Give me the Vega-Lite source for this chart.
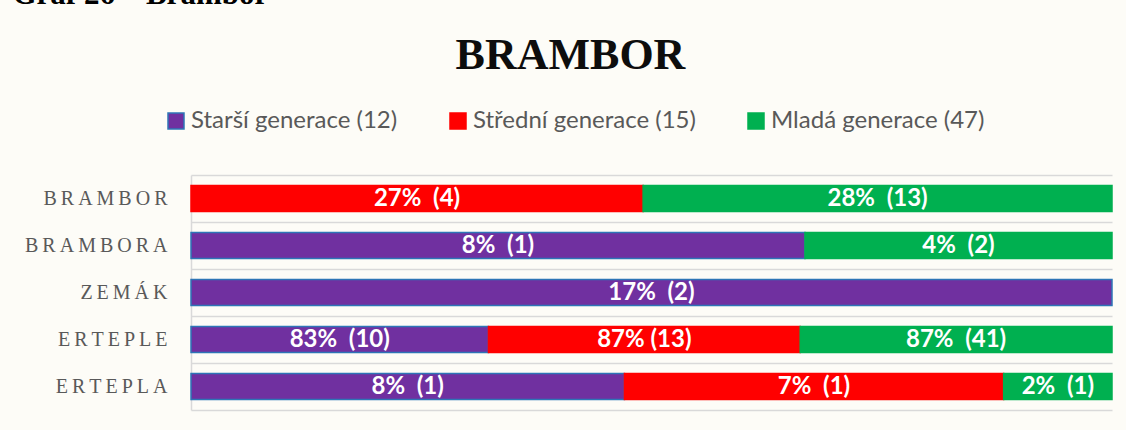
{
  "$schema": "https://vega.github.io/schema/vega-lite/v6.json",
  "autosize": {"type": "none"},
  "padding": {"left": 191, "top": 175, "right": 14, "bottom": 20},
  "width": 921,
  "height": 235,
  "background": "#fdfcf7",
  "title": {
    "text": "BRAMBOR",
    "font": "Liberation Serif",
    "fontWeight": "bold",
    "fontSize": 44,
    "color": "#0d0d0d",
    "anchor": "middle",
    "frame": "group",
    "baseline": "alphabetic",
    "dx": -81,
    "dy": 135,
    "offset": 0
  },
  "data": {
    "values": [
      {"word": "BRAMBOR", "gen": "Střední generace (15)", "g": 2, "pct": 27, "label": "27%\u00a0 (4)"},
      {"word": "BRAMBOR", "gen": "Mladá generace (47)", "g": 3, "pct": 28, "label": "28%\u00a0 (13)"},
      {"word": "BRAMBORA", "gen": "Starší generace (12)", "g": 1, "pct": 8, "label": "8%\u00a0 (1)"},
      {"word": "BRAMBORA", "gen": "Mladá generace (47)", "g": 3, "pct": 4, "label": "4%\u00a0 (2)"},
      {"word": "ZEMÁK", "gen": "Starší generace (12)", "g": 1, "pct": 17, "label": "17%\u00a0 (2)"},
      {"word": "ERTEPLE", "gen": "Starší generace (12)", "g": 1, "pct": 83, "label": "83%\u00a0 (10)"},
      {"word": "ERTEPLE", "gen": "Střední generace (15)", "g": 2, "pct": 87, "label": "87% (13)"},
      {"word": "ERTEPLE", "gen": "Mladá generace (47)", "g": 3, "pct": 87, "label": "87%\u00a0 (41)"},
      {"word": "ERTEPLA", "gen": "Starší generace (12)", "g": 1, "pct": 8, "label": "8%\u00a0 (1)"},
      {"word": "ERTEPLA", "gen": "Střední generace (15)", "g": 2, "pct": 7, "label": "7%\u00a0 (1)"},
      {"word": "ERTEPLA", "gen": "Mladá generace (47)", "g": 3, "pct": 2, "label": "2%\u00a0 (1)"}
    ]
  },
  "transform": [
    {"stack": "pct", "groupby": ["word"], "sort": [{"field": "g"}], "offset": "normalize", "as": ["x0", "x1"]}
  ],
  "encoding": {
    "y": {
      "field": "word",
      "type": "nominal",
      "sort": ["BRAMBOR", "BRAMBORA", "ZEMÁK", "ERTEPLE", "ERTEPLA"],
      "scale": {"paddingInner": 0, "paddingOuter": 0},
      "axis": {
        "title": "Graf 26 – Brambor",
        "titleAngle": 0,
        "titleX": -179,
        "titleY": -172,
        "titleAlign": "left",
        "titleBaseline": "alphabetic",
        "titleFont": "Liberation Serif",
        "titleFontWeight": "bold",
        "titleFontSize": 31,
        "titleColor": "#000000",
        "labelExpr": "join(split(datum.label, ''), '\u2009')",
        "labelFont": "Liberation Serif",
        "labelFontSize": 20,
        "labelColor": "#595959",
        "labelPadding": 24,
        "ticks": false,
        "domain": true,
        "domainColor": "#d9d9d9",
        "domainWidth": 1.5,
        "grid": true,
        "gridColor": "#d9d9d9",
        "gridWidth": 1.5,
        "bandPosition": 0
      }
    }
  },
  "layer": [
    {
      "mark": {"type": "bar", "height": {"band": 0.55}, "strokeWidth": 1.5},
      "encoding": {
        "x": {
          "field": "x0",
          "type": "quantitative",
          "scale": {"domain": [0, 1], "nice": false, "zero": false},
          "axis": {"title": null, "labels": false, "ticks": false, "grid": false, "domain": true, "domainColor": "#d9d9d9", "domainWidth": 1.5}
        },
        "x2": {"field": "x1"},
        "color": {
          "field": "gen",
          "type": "nominal",
          "scale": {
            "domain": ["Starší generace (12)", "Střední generace (15)", "Mladá generace (47)"],
            "range": ["#7030a0", "#ff0000", "#00b050"]
          },
          "legend": {
            "title": null,
            "orient": "none",
            "direction": "horizontal",
            "legendX": -27,
            "legendY": -66,
            "symbolType": "square",
            "symbolSize": 256,
            "symbolStrokeWidth": 1.5,
            "symbolOpacity": 1,
            "labelFont": "Lato",
            "labelFontSize": 24,
            "labelColor": "#595959",
            "labelOffset": 3,
            "columnPadding": 48,
            "labelLimit": 400
          }
        },
        "stroke": {
          "field": "gen",
          "type": "nominal",
          "scale": {
            "domain": ["Starší generace (12)", "Střední generace (15)", "Mladá generace (47)"],
            "range": ["#2e75b6", "#ff0000", "#00b050"]
          },
          "legend": {
            "title": null,
            "orient": "none",
            "direction": "horizontal",
            "legendX": -27,
            "legendY": -66,
            "symbolType": "square",
            "symbolSize": 256,
            "symbolStrokeWidth": 1.5,
            "labelFont": "Lato",
            "labelFontSize": 24,
            "labelColor": "#595959",
            "labelOffset": 3,
            "columnPadding": 48,
            "labelLimit": 400
          }
        }
      }
    },
    {
      "transform": [
        {"fold": ["x0", "x1"], "as": ["edge", "pos"]},
        {"aggregate": [{"op": "mean", "field": "pos", "as": "mid"}], "groupby": ["word", "label"]}
      ],
      "mark": {"type": "text", "color": "#ffffff", "font": "Lato", "fontWeight": "bold", "fontSize": 24, "align": "center", "baseline": "middle"},
      "encoding": {
        "x": {"field": "mid", "type": "quantitative"},
        "text": {"field": "label", "type": "nominal"}
      }
    }
  ],
  "config": {
    "view": {"stroke": null}
  }
}
